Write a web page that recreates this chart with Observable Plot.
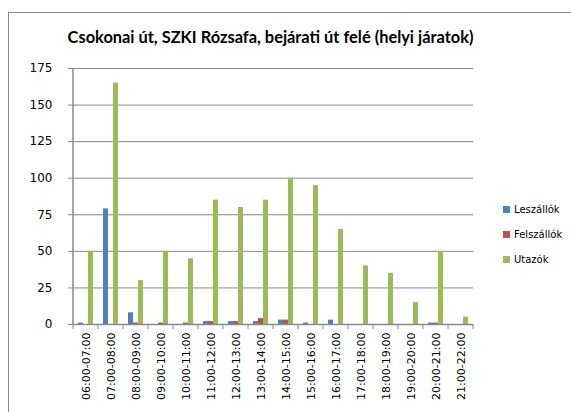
<!DOCTYPE html>
<html>
<head>
<meta charset="utf-8">
<script src="https://cdn.jsdelivr.net/npm/d3@7"></script>
<script src="https://cdn.jsdelivr.net/npm/@observablehq/plot@0.6"></script>
<style>
  html, body { margin: 0; padding: 0; background: #fff; }
  #wrap { position: relative; width: 571px; height: 412px; overflow: hidden; }
  #border { position: absolute; left: 8px; top: 12px; width: 600px; height: 450px; border: 1px solid #888; box-sizing: border-box; }
  #title { position: absolute; left: 0; width: 541px; top: 27px; text-align: center; font-family: Lato, "Open Sans", sans-serif; font-weight: bold; font-size: 16.4px; color: #000; white-space: nowrap; }
  #legend { position: absolute; left: 503px; top: 197px; font-family: "DejaVu Sans", sans-serif; font-size: 10px; color: #000; }
  .li { display: flex; align-items: center; height: 25px; }
  .sw { width: 7px; height: 7px; margin-right: 4px; }
  #chart { position: absolute; left: 0; top: 0; }
</style>
</head>
<body>
<div id="wrap">
  <div id="border"></div>
  <div id="chart"></div>
  <div id="title">Csokonai út, SZKI Rózsafa, bejárati út felé (helyi járatok)</div>
  <div id="legend"></div>
</div>
<script>
const categories = ["06:00-07:00","07:00-08:00","08:00-09:00","09:00-10:00","10:00-11:00","11:00-12:00","12:00-13:00","13:00-14:00","14:00-15:00","15:00-16:00","16:00-17:00","17:00-18:00","18:00-19:00","19:00-20:00","20:00-21:00","21:00-22:00"];
const seriesNames = ["Leszállók","Felszállók","Utazók"];
const leszallok  = [1, 79, 8, 0, 0, 2, 2, 2, 3, 1, 3, 0, 0, 0, 1, 0];
const felszallok = [0, 0, 1, 1, 1, 2, 2, 4, 3, 0, 0, 0, 0, 0, 1, 0];
const utazok     = [50, 165, 30, 50, 45, 85, 80, 85, 100, 95, 65, 40, 35, 15, 50, 5];
const colors = ["#4F81BD", "#C0504D", "#9BBB59"];
const yTicks = [0, 25, 50, 75, 100, 125, 150, 175];

const seriesValues = [leszallok, felszallok, utazok];
const data = [];
categories.forEach((c, i) => {
  seriesNames.forEach((s, j) => data.push({cat: c, series: s, value: seriesValues[j][i]}));
});

const plot = Plot.plot({
  width: 571,
  height: 412,
  marginLeft: 66,
  marginRight: 91,
  marginTop: 68,
  marginBottom: 88,
  style: {fontFamily: "DejaVu Sans, sans-serif", fontSize: "11px", color: "#000", background: "transparent"},
  fx: {domain: categories, padding: 0, label: null},
  x: {domain: seriesNames, paddingInner: 0, paddingOuter: 0.6, axis: null},
  y: {domain: [0, 175], label: null},
  color: {domain: seriesNames, range: colors},
  marks: [
    Plot.ruleY(yTicks.filter(d => d > 0), {stroke: "#888", strokeWidth: 1}),
    Plot.barY(data, {fx: "cat", x: "series", y: "value", fill: "series", insetLeft: 0, insetRight: 0}),
    Plot.ruleY([0], {stroke: "#888", strokeWidth: 1.5}),
    Plot.axisY({ticks: yTicks, tickSize: 5, tickPadding: 16, stroke: "#888", fontSize: 12, label: null}),
    Plot.axisFx({anchor: "bottom", tickRotate: -90, tickSize: 0, tickPadding: 8, fontSize: 11, label: null})
  ]
});
document.getElementById("chart").appendChild(plot);

// y axis line and category boundary ticks (Excel style)
const fx = plot.scale("fx");
const y = plot.scale("y");
const svg = d3.select(plot);
const y0 = y.apply(0);
const yTop = y.apply(175);
const xLeft = fx.apply(categories[0]);
svg.append("line")
  .attr("x1", xLeft).attr("x2", xLeft).attr("y1", yTop).attr("y2", y0)
  .attr("stroke", "#888").attr("stroke-width", 1.5);
const bounds = categories.map(c => fx.apply(c));
bounds.push(fx.apply(categories[categories.length - 1]) + fx.bandwidth);
svg.append("g").selectAll("line").data(bounds).join("line")
  .attr("x1", d => d).attr("x2", d => d)
  .attr("y1", y0).attr("y2", y0 + 5)
  .attr("stroke", "#888").attr("stroke-width", 1);

// legend
const leg = d3.select("#legend");
seriesNames.forEach((s, i) => {
  const row = leg.append("div").attr("class", "li");
  row.append("div").attr("class", "sw").style("background", colors[i]);
  row.append("span").text(s);
});
</script>
</body>
</html>
